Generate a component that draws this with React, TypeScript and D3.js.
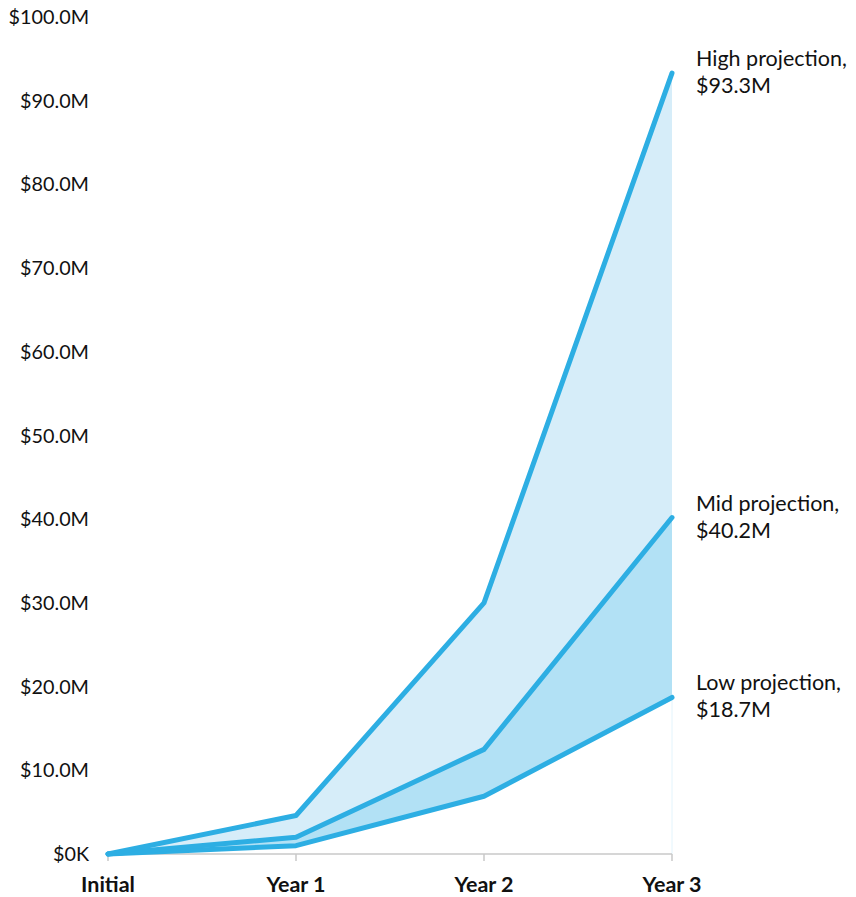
import React from "react";
import * as d3 from "d3";

const categories = ["Initial", "Year 1", "Year 2", "Year 3"];
const highValues = [0, 4.6, 30.0, 93.3];
const midValues = [0, 2.0, 12.5, 40.2];
const lowValues = [0, 1.0, 6.9, 18.7];
const yTicks = [0, 10, 20, 30, 40, 50, 60, 70, 80, 90, 100];
const seriesLabels = ["High projection,", "Mid projection,", "Low projection,"];

const W = 856;
const H = 897;
const LINE = "#2daee3";
const FONT = "Lato, 'Open Sans', sans-serif";

export default function App() {
  const x = d3.scalePoint<string>().domain(categories).range([108, 672]);
  const y = d3.scaleLinear().domain([0, 100]).range([854, 17]);
  const idx = categories.map((_, i) => i);
  const line = (vals: number[]) =>
    d3.line<number>().x((i) => x(categories[i])!).y((i) => y(vals[i]))(idx)!;
  const band = (top: number[], bot: number[]) =>
    d3
      .area<number>()
      .x((i) => x(categories[i])!)
      .y0((i) => y(bot[i]))
      .y1((i) => y(top[i]))(idx)!;
  const fmt = (v: number) => (v === 0 ? "$0K" : `$${v.toFixed(1)}M`);
  const last = categories.length - 1;
  const labels = [
    { name: seriesLabels[0], v: highValues[last] },
    { name: seriesLabels[1], v: midValues[last] },
    { name: seriesLabels[2], v: lowValues[last] },
  ];
  return (
    <svg
      width={W}
      height={H}
      style={{ position: "absolute", left: 0, top: 0, fontFamily: FONT }}
    >
      <path d={band(highValues, midValues)} fill="#d6edf9" />
      <path d={band(midValues, lowValues)} fill="#b2e1f5" />
      <line
        x1={x(categories[last])}
        x2={x(categories[last])}
        y1={y(lowValues[last])}
        y2={y(0)}
        stroke="#e3f4fc"
        strokeWidth={1}
      />
      <line x1={x(categories[0])} x2={x(categories[last])} y1={y(0)} y2={y(0)} stroke="#c8c8c8" strokeWidth={1.5} />
      {categories.map((c) => (
        <g key={c}>
          <line x1={x(c)} x2={x(c)} y1={y(0)} y2={y(0) + 7} stroke="#c8c8c8" strokeWidth={1.5} />
          <text x={x(c)} y={892} textAnchor="middle" fontSize={21.5} fontWeight="bold" fill="#111">
            {c}
          </text>
        </g>
      ))}
      {yTicks.map((t) => (
        <text key={t} x={89} y={y(t) + 7} textAnchor="end" fontSize={19.8} fill="#111">
          {fmt(t)}
        </text>
      ))}
      {[lowValues, midValues, highValues].map((vals, i) => (
        <path
          key={i}
          d={line(vals)}
          fill="none"
          stroke={LINE}
          strokeWidth={5}
          strokeLinejoin="round"
          strokeLinecap="round"
        />
      ))}
      {labels.map((l) => (
        <text key={l.name} x={696} y={y(l.v) - 7} fontSize={21.5} fill="#111">
          <tspan x={696}>{l.name}</tspan>
          <tspan x={696} dy={27}>
            {fmt(l.v)}
          </tspan>
        </text>
      ))}
    </svg>
  );
}
